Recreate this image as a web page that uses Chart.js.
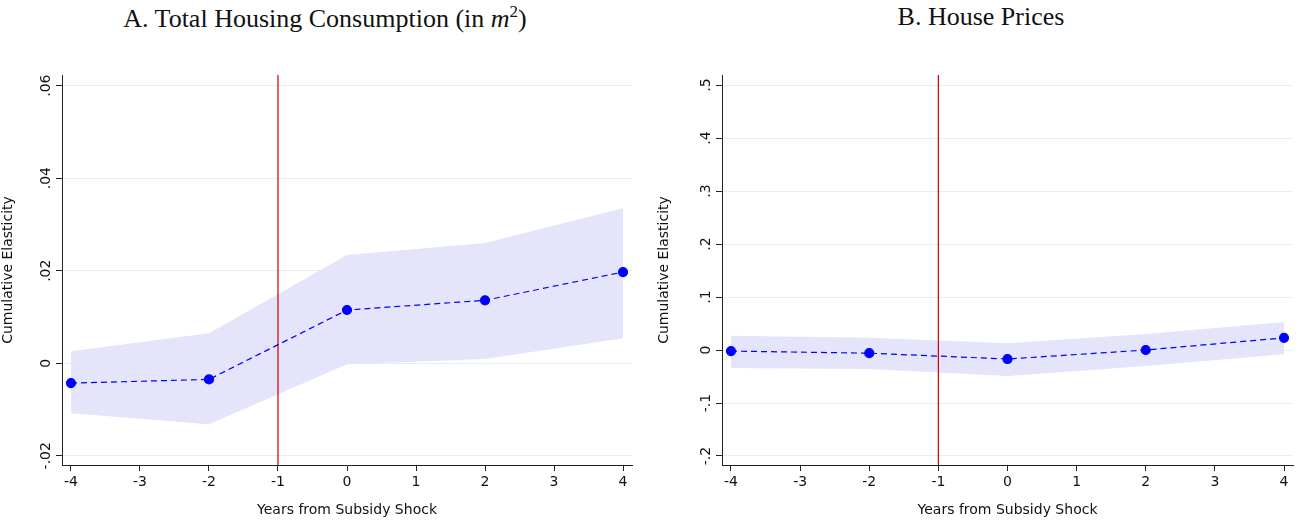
<!DOCTYPE html>
<html><head><meta charset="utf-8">
<script src="https://cdn.jsdelivr.net/npm/chart.js@4"></script>
<style>
body{margin:0;background:#fff;width:1306px;height:523px;position:relative;overflow:hidden}
.t{position:absolute;top:2px;font-family:"Liberation Serif","DejaVu Serif",serif;font-size:26px;color:#111;text-align:center;width:650px}
canvas{position:absolute;top:0}
</style></head><body>
<div class="t" style="left:0">A. Total Housing Consumption (in <i>m</i><sup style="font-size:17px">2</sup>)</div>
<div class="t" style="left:656px">B. House Prices</div>
<canvas id="cA" width="650" height="523" style="left:0"></canvas>
<canvas id="cB" width="650" height="523" style="left:656px"></canvas>
<script>
const years = [-4, -2, 0, 2, 4];
// Panel A: housing consumption
const estA = [-0.0043, -0.0035, 0.0115, 0.0136, 0.0197];
const hiA = [0.0026, 0.0065, 0.0234, 0.026, 0.0335];
const loA = [-0.0108, -0.0132, -0.0002, 0.0009, 0.0054];
const ticksA = [-0.02, 0, 0.02, 0.04, 0.06];
// Panel B: house prices
const estB = [-0.002, -0.006, -0.017, 0, 0.023];
const hiB = [0.027, 0.023, 0.013, 0.03, 0.053];
const loB = [-0.034, -0.036, -0.049, -0.03, -0.008];
const ticksB = [-0.2, -0.1, 0, 0.1, 0.2, 0.3, 0.4, 0.5];
const xTicks = [-4, -3, -2, -1, 0, 1, 2, 3, 4];

const fmt = v => { if (Math.abs(v) < 1e-9) return '0'; let s = String(+v.toFixed(3)); return s.replace('0.', '.'); };

const yLabels = {
  id: 'yLabels',
  afterDraw(chart) {
    const c = chart.ctx, y = chart.scales.y;
    c.save();
    c.font = '14px "DejaVu Sans"';
    c.fillStyle = '#111';
    c.textAlign = 'center';
    c.textBaseline = 'bottom';
    y.ticks.forEach(t => {
      const py = y.getPixelForValue(t.value);
      c.save();
      c.translate(y.right - 9, py);
      c.rotate(-Math.PI / 2);
      c.fillText(fmt(t.value), 0, 0);
      c.restore();
    });
    c.restore();
  }
};

function make(id, est, hi, lo, yt, ymin, ymax, padRight) {
  const pts = a => years.map((x, i) => ({x, y: a[i]}));
  new Chart(document.getElementById(id), {
    type: 'line',
    data: {datasets: [
      {data: pts(hi), order: 4, borderWidth: 0, pointRadius: 0, fill: '+1', backgroundColor: 'rgba(228,228,250,1)'},
      {data: pts(lo), order: 3, borderWidth: 0, pointRadius: 0, fill: false},
      {data: [{x: -1, y: ymin}, {x: -1, y: ymax}], order: 2, borderColor: '#d00000', borderWidth: 1.2, pointRadius: 0},
      {data: pts(est), order: 1, clip: false, borderColor: '#0000ff', borderWidth: 1.2, borderDash: [6, 4], pointRadius: 4.5,
       pointBackgroundColor: '#0000ff', pointBorderColor: '#0000ff'}
    ]},
    options: {
      responsive: false, animation: false,
      layout: {padding: {top: 75, right: padRight}},
      plugins: {legend: {display: false}, tooltip: {enabled: false}},
      scales: {
        x: {type: 'linear', min: -4.13, max: 4.13,
          afterBuildTicks: s => { s.ticks = xTicks.map(v => ({value: v})); },
          afterFit: s => { s.height = 58; },
          border: {color: '#222'},
          grid: {color: 'transparent', tickColor: '#222', tickLength: 6},
          ticks: {color: '#111', font: {family: 'DejaVu Sans', size: 14}, maxRotation: 0, padding: 3},
          title: {display: true, text: 'Years from Subsidy Shock', color: '#111', font: {family: 'DejaVu Sans', size: 14}, padding: {top: 2}}
        },
        y: {min: ymin, max: ymax,
          afterBuildTicks: s => { s.ticks = yt.map(v => ({value: v})); },
          afterFit: s => { s.width = id === 'cA' ? 62 : 66; },
          border: {color: '#222'},
          grid: {color: '#e8eeee', tickColor: '#222', tickLength: 6},
          ticks: {display: false},
          title: {display: true, text: 'Cumulative Elasticity', color: '#111', font: {family: 'DejaVu Sans', size: 14}, padding: 0}
        }
      }
    },
    plugins: [yLabels]
  });
}
make('cA', estA, hiA, loA, ticksA, -0.022, 0.0623, 18);
make('cB', estB, hiB, loB, ticksB, -0.217, 0.519, 13);
</script></body></html>
